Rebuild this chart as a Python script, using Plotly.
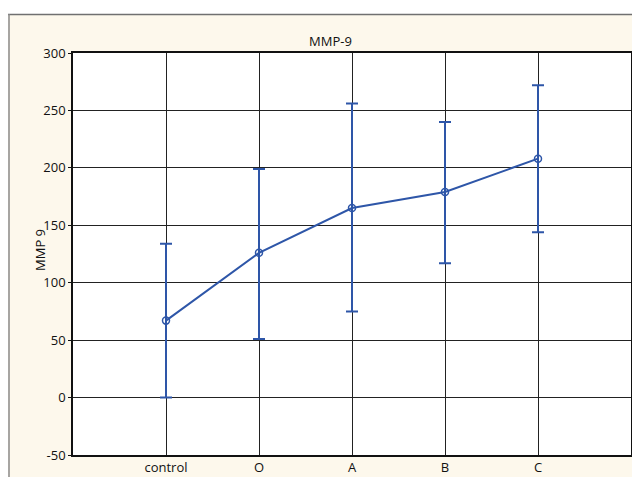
import plotly.graph_objects as go

categories = ["control", "O", "A", "B", "C"]
means = [67, 126, 165, 179, 208]
upper = [134, 199, 256, 240, 272]
lower = [0, 51, 75, 117, 144]
y_tick_values = [-50, 0, 50, 100, 150, 200, 250, 300]
y_tick_labels = ["-50", "0", "50", "100", "150", "200", "250", "300"]

err_plus = [u - m for u, m in zip(upper, means)]
err_minus = [m - l for m, l in zip(means, lower)]

blue = "#2e56a8"
cream = "#fdf8ec"

fig = go.Figure()
fig.add_trace(go.Scatter(
    x=categories, y=means, mode="lines+markers",
    line=dict(color=blue, width=2),
    marker=dict(symbol="circle-open", size=7, color=blue, line=dict(width=1.5, color=blue)),
    error_y=dict(type="data", symmetric=False, array=err_plus, arrayminus=err_minus,
                 color=blue, thickness=2, width=6),
    showlegend=False,
))

W, H = 632, 477
L, R, T, B = 73, 1, 53, 22
pw, ph = W - L - R, H - T - B

def px(x):  # page pixel x -> paper x
    return (x - L) / pw

def py(y):  # page pixel y -> paper y
    return (H - B - y) / ph

# white strips outside the cream panel, and the panel border
fig.add_shape(type="rect", xref="paper", yref="paper",
              x0=px(-10), x1=px(700), y0=py(14), y1=py(-10),
              fillcolor="white", line=dict(width=0), layer="below")
fig.add_shape(type="rect", xref="paper", yref="paper",
              x0=px(-10), x1=px(8), y0=py(500), y1=py(-10),
              fillcolor="white", line=dict(width=0), layer="below")
fig.add_shape(type="line", xref="paper", yref="paper",
              x0=px(8), x1=px(700), y0=py(14.5), y1=py(14.5),
              line=dict(color="#707070", width=1.5), layer="below")
fig.add_shape(type="line", xref="paper", yref="paper",
              x0=px(9), x1=px(9), y0=py(14), y1=py(500),
              line=dict(color="#8a8a8a", width=1.5), layer="below")

font = "Open Sans, Noto Sans, sans-serif"
fig.add_annotation(text="MMP-9", xref="paper", yref="paper", x=px(330), y=py(30),
                   showarrow=False, font=dict(family=font, size=13, color="#111"))
fig.add_annotation(text="MMP 9", xref="paper", yref="paper", x=px(29), y=py(250),
                   textangle=-90, showarrow=False, font=dict(family=font, size=13, color="#111"))

fig.update_layout(
    width=W, height=H,
    margin=dict(l=L, r=R, t=T, b=B, autoexpand=False),
    paper_bgcolor=cream, plot_bgcolor="white",
    font=dict(family=font, size=13, color="#111"),
)
fig.update_xaxes(type="category", range=[-1, 5], showgrid=True, gridcolor="#222", gridwidth=1,
                 showline=True, linecolor="#111", linewidth=1.5, mirror=True,
                 ticks="", zeroline=False, tickfont=dict(size=13))
fig.update_yaxes(range=[-50, 300], tickvals=y_tick_values, ticktext=y_tick_labels,
                 showgrid=True, gridcolor="#222", gridwidth=1,
                 showline=True, linecolor="#111", linewidth=1.5, mirror=True,
                 ticks="outside", ticklen=3, tickcolor="#111", zeroline=False,
                 tickfont=dict(size=13))

fig.write_html(
    "out.html",
    config={"displayModeBar": False},
    post_script="document.body.style.margin='0';document.body.style.overflow='hidden';",
)
